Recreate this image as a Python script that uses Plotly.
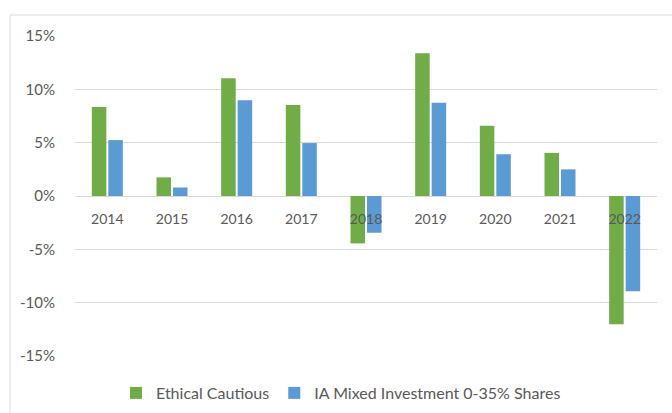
import plotly.graph_objects as go

years = ["2014", "2015", "2016", "2017", "2018", "2019", "2020", "2021", "2022"]
ethical_cautious = [8.35, 1.75, 11.05, 8.55, -4.45, 13.4, 6.6, 4.05, -12.05]
ia_mixed = [5.25, 0.8, 9.0, 4.97, -3.45, 8.75, 3.92, 2.5, -8.95]
series_names = ["Ethical Cautious", "IA Mixed Investment 0-35% Shares"]
y_ticks = [-15, -10, -5, 0, 5, 10, 15]
y_tick_labels = [f"{v}%" for v in y_ticks]

GREEN = "#70AD47"
BLUE = "#5B9BD5"
GRID = "#D9D9D9"
TEXT = "#595959"
FONT = "Lato, 'Open Sans', sans-serif"

W, H = 672, 413
L, R, T, B = 75, 15, 36, 57
pw, ph = W - L - R, H - T - B

fig = go.Figure()
fig.add_trace(go.Bar(x=years, y=ethical_cautious, name=series_names[0],
                     marker=dict(color=GREEN, line=dict(width=0))))
fig.add_trace(go.Bar(x=years, y=ia_mixed, name=series_names[1],
                     marker=dict(color=BLUE, line=dict(width=0))))

fig.update_layout(
    width=W, height=H,
    margin=dict(l=L, r=R, t=T, b=B, pad=0, autoexpand=False),
    paper_bgcolor="white", plot_bgcolor="white",
    barmode="group", bargap=0.49, bargroupgap=0.12,
    font=dict(family=FONT, size=14, color=TEXT),
    showlegend=True,
    legend=dict(orientation="h", x=(341 - L) / pw, xanchor="center",
                y=(ph - (393 - T)) / ph, yanchor="middle",
                font=dict(size=16, color=TEXT), itemwidth=30,
                traceorder="normal"),
    xaxis=dict(type="category", anchor="free", position=0.5,
               showgrid=False, showline=False, zeroline=False,
               ticks="outside", ticklen=10, tickcolor="rgba(0,0,0,0)",
               tickfont=dict(size=14, color=TEXT), fixedrange=True),
    yaxis=dict(range=[-15.02, 15.02], tickvals=y_ticks, ticktext=y_tick_labels,
               showgrid=True, gridcolor=GRID, gridwidth=1,
               zeroline=True, zerolinecolor=GRID, zerolinewidth=1,
               showline=False, ticks="outside", ticklen=16,
               tickcolor="rgba(0,0,0,0)",
               tickfont=dict(size=15, color=TEXT), fixedrange=True),
    shapes=[dict(type="rect", xref="paper", yref="paper",
                 x0=(10 - L) / pw, x1=(W + 10 - L) / pw,
                 y0=-(B + 20) / ph, y1=1 + (T - 15) / ph,
                 line=dict(color=GRID, width=1), layer="below")],
)

fig.write_html("out.html")
